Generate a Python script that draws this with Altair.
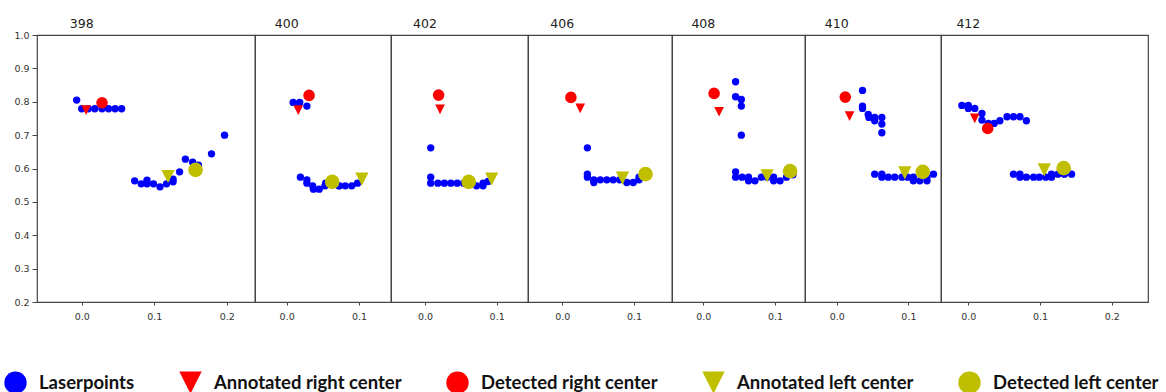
import altair as alt
import pandas as pd

panel_ids = ["398", "400", "402", "406", "408", "410", "412"]

laser_398_x = [-0.007, 0.000, 0.009, 0.018, 0.028, 0.037, 0.046, 0.055, 0.073, 0.082, 0.090, 0.090,
               0.099, 0.108, 0.117, 0.126, 0.126, 0.135, 0.143, 0.153, 0.161, 0.179, 0.197]
laser_398_y = [0.805, 0.779, 0.779, 0.779, 0.779, 0.779, 0.779, 0.779, 0.563, 0.554, 0.565, 0.554,
               0.554, 0.545, 0.554, 0.568, 0.560, 0.590, 0.628, 0.619, 0.610, 0.644, 0.700]

laser_400_x = [0.009, 0.018, 0.016, 0.028, 0.019, 0.028, 0.028, 0.036, 0.037, 0.045, 0.053, 0.054,
               0.063, 0.072, 0.073, 0.081, 0.090, 0.098]
laser_400_y = [0.798, 0.798, 0.787, 0.787, 0.574, 0.566, 0.556, 0.548, 0.538, 0.538, 0.548, 0.556,
               0.556, 0.548, 0.548, 0.548, 0.548, 0.556]

laser_402_x = [0.008, 0.008, 0.008, 0.018, 0.027, 0.036, 0.045, 0.054, 0.063, 0.072, 0.081, 0.081, 0.088]
laser_402_y = [0.662, 0.574, 0.556, 0.556, 0.556, 0.556, 0.556, 0.556, 0.556, 0.548, 0.548, 0.556, 0.561]

laser_406_x = [0.035, 0.035, 0.035, 0.044, 0.044, 0.053, 0.062, 0.071, 0.080, 0.090, 0.099, 0.107, 0.107]
laser_406_y = [0.662, 0.583, 0.574, 0.558, 0.566, 0.566, 0.566, 0.566, 0.566, 0.558, 0.558, 0.566, 0.574]

laser_408_x = [0.045, 0.045, 0.053, 0.053, 0.053, 0.045, 0.045, 0.054, 0.063, 0.063, 0.072, 0.081,
               0.089, 0.098, 0.098, 0.107, 0.116, 0.125]
laser_408_y = [0.860, 0.815, 0.807, 0.787, 0.700, 0.590, 0.574, 0.574, 0.574, 0.563, 0.563, 0.574,
               0.574, 0.574, 0.563, 0.563, 0.574, 0.581]

laser_410_x = [0.036, 0.036, 0.036, 0.044, 0.045, 0.053, 0.053, 0.063, 0.063, 0.063, 0.053, 0.063,
               0.063, 0.072, 0.081, 0.091, 0.099, 0.107, 0.107, 0.116, 0.126, 0.126, 0.135]
laser_410_y = [0.834, 0.787, 0.780, 0.762, 0.753, 0.753, 0.743, 0.753, 0.733, 0.707, 0.583, 0.583,
               0.574, 0.574, 0.574, 0.574, 0.574, 0.574, 0.563, 0.563, 0.563, 0.574, 0.583]

laser_412_x = [-0.009, 0.000, 0.000, 0.009, 0.019, 0.019, 0.028, 0.036, 0.044, 0.054, 0.063, 0.072,
               0.081, 0.063, 0.072, 0.072, 0.081, 0.091, 0.099, 0.108, 0.116, 0.116, 0.125, 0.134, 0.144]
laser_412_y = [0.789, 0.789, 0.780, 0.780, 0.765, 0.745, 0.735, 0.735, 0.743, 0.755, 0.755, 0.755,
               0.743, 0.583, 0.583, 0.574, 0.574, 0.574, 0.574, 0.574, 0.583, 0.574, 0.583, 0.583, 0.583]

ann_right_x = [0.006, 0.016, 0.021, 0.025, 0.022, 0.018, 0.009]
ann_right_y = [0.775, 0.775, 0.777, 0.780, 0.770, 0.757, 0.750]
det_right_x = [0.028, 0.031, 0.019, 0.012, 0.015, 0.012, 0.027]
det_right_y = [0.797, 0.819, 0.820, 0.813, 0.825, 0.814, 0.720]
ann_left_x = [0.119, 0.104, 0.093, 0.084, 0.089, 0.095, 0.106]
ann_left_y = [0.576, 0.568, 0.568, 0.571, 0.578, 0.587, 0.596]
det_left_x = [0.157, 0.063, 0.061, 0.116, 0.121, 0.120, 0.133]
det_left_y = [0.596, 0.560, 0.560, 0.583, 0.592, 0.590, 0.601]

kinds = ["Laserpoints", "Annotated right center", "Detected right center",
         "Annotated left center", "Detected left center"]
marker_keys = ["m_laser", "m_ann_right", "m_det_right", "m_ann_left", "m_det_left"]
kind_colors = ["#0000ff", "#ff0000", "#ff0000", "#bfbf00", "#bfbf00"]
tri_down = "M-1,-1L1,-1L0,1Z"
kind_shapes = ["circle", tri_down, "circle", tri_down, "circle"]
marker_sizes = [54, 215, 190, 215, 190]

y_ticks = [0.2, 0.3, 0.4, 0.5, 0.6, 0.7, 0.8, 0.9, 1.0]
x_tick_candidates = [0.0, 0.1, 0.2]

panel_x_domains = [[-0.0617, 0.2390], [-0.0438, 0.1443], [-0.0474, 0.1437], [-0.0478, 0.1530],
                   [-0.0437, 0.1418], [-0.0442, 0.1455], [-0.0381, 0.2506]]
panel_widths = [218, 136, 137, 144, 133, 136, 207]
plot_height = 267

laser_x = [laser_398_x, laser_400_x, laser_402_x, laser_406_x, laser_408_x, laser_410_x, laser_412_x]
laser_y = [laser_398_y, laser_400_y, laser_402_y, laser_406_y, laser_408_y, laser_410_y, laser_412_y]

color_enc = alt.Color("kind:N", scale=alt.Scale(domain=kinds, range=kind_colors), legend=alt.Legend(title=None))
shape_enc = alt.Shape("kind:N", scale=alt.Scale(domain=kinds, range=kind_shapes), legend=alt.Legend(title=None))
size_enc = alt.Size("marker:N", scale=alt.Scale(domain=marker_keys, range=marker_sizes), legend=None)

panels = []
for i, pid in enumerate(panel_ids):
    rows = []
    for xv, yv in zip(laser_x[i], laser_y[i]):
        rows.append({"x": xv, "y": yv, "kind": kinds[0], "marker": marker_keys[0]})
    rows.append({"x": ann_right_x[i], "y": ann_right_y[i], "kind": kinds[1], "marker": marker_keys[1]})
    rows.append({"x": det_right_x[i], "y": det_right_y[i], "kind": kinds[2], "marker": marker_keys[2]})
    rows.append({"x": ann_left_x[i], "y": ann_left_y[i], "kind": kinds[3], "marker": marker_keys[3]})
    rows.append({"x": det_left_x[i], "y": det_left_y[i], "kind": kinds[4], "marker": marker_keys[4]})
    df = pd.DataFrame(rows)

    dom = panel_x_domains[i]
    xvals = [v for v in x_tick_candidates if dom[0] <= v <= dom[1]]
    x_enc = alt.X("x:Q", scale=alt.Scale(domain=dom, nice=False, zero=False),
                  axis=alt.Axis(values=xvals, format=".1f", title=None, grid=False, domain=False,
                                tickSize=3, labelPadding=6, labelFlush=False))
    if i == 0:
        y_axis = alt.Axis(values=y_ticks, format=".1f", title=None, grid=False, domain=False,
                          tickSize=5, labelPadding=3, labelFlush=False)
    else:
        y_axis = None
    y_enc = alt.Y("y:Q", scale=alt.Scale(domain=[0.2, 1.0], nice=False, zero=False), axis=y_axis)

    pts = alt.Chart(df).mark_point(filled=True, opacity=1, strokeWidth=0).encode(
        x=x_enc, y=y_enc, color=color_enc, shape=shape_enc, size=size_enc
    )
    ttl = alt.Chart(pd.DataFrame({"panel": [pid]})).mark_text(
        font="DejaVu Sans", fontSize=12.5, color="#222", align="center", baseline="middle"
    ).encode(x=alt.datum(0.0), y=alt.value(-11), text="panel:N")

    panels.append(alt.layer(pts, ttl).properties(width=panel_widths[i], height=plot_height))

chart = alt.hconcat(*panels, spacing=0, bounds="flush").resolve_scale(x="independent").properties(
    padding={"left": 4, "top": 17, "right": 0, "bottom": 0}
).configure_view(
    stroke="#444", strokeWidth=1.2
).configure_axis(
    labelFont="DejaVu Sans", labelFontSize=9.5, labelColor="#333", tickColor="#444"
).configure_legend(
    orient="none", legendX=-33, legendY=336, direction="horizontal", columns=5,
    symbolSize=500, labelFont="Lato", labelFontSize=18.5, labelFontWeight="bold", labelLimit=0,
    labelColor="#111", columnPadding=44, labelOffset=12, symbolStrokeWidth=0, symbolOpacity=1
)

chart.save("out.html", embed_options={"renderer": "svg", "actions": False})
